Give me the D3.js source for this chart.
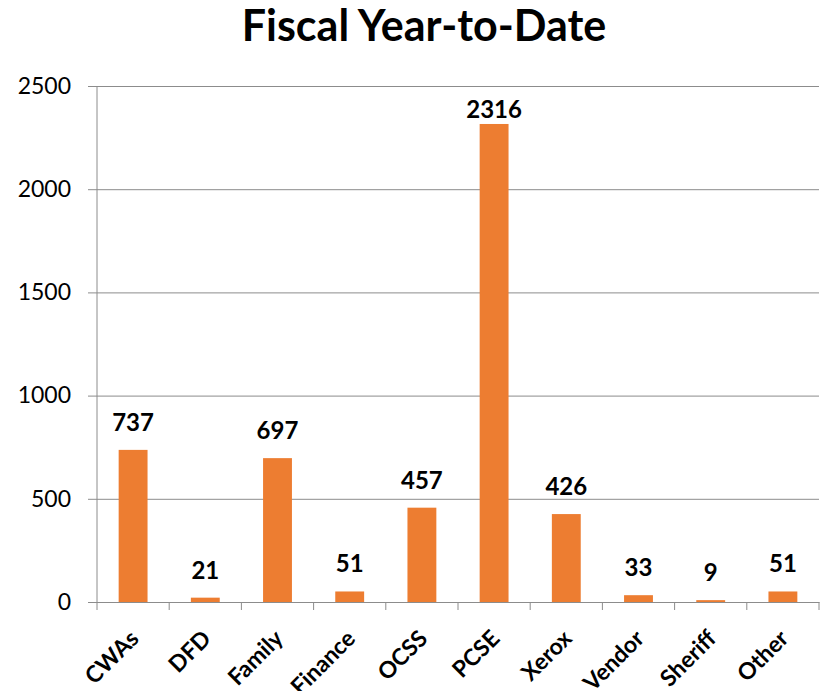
<!DOCTYPE html>
<html>
<head>
<meta charset="utf-8">
<script src="https://cdn.jsdelivr.net/npm/d3@7"></script>
<style>
  body { margin: 0; background: #fff; }
  text { font-family: Lato, "Open Sans", sans-serif; }
</style>
</head>
<body>
<svg id="chart" width="821" height="691"></svg>
<script>
// Data
const categories = ['CWAs', 'DFD', 'Family', 'Finance', 'OCSS', 'PCSE', 'Xerox', 'Vendor', 'Sheriff', 'Other'];
const counts = [737, 21, 697, 51, 457, 2316, 426, 33, 9, 51];
const yTicks = [0, 500, 1000, 1500, 2000, 2500];

const svg = d3.select('#chart');
const margin = { top: 86, right: 2, bottom: 89, left: 97 };
const width = +svg.attr('width');
const height = +svg.attr('height');
const gridColor = '#8c8c8c';

const x = d3.scaleBand()
    .domain(categories)
    .range([margin.left, width - margin.right]);

const y = d3.scaleLinear()
    .domain([0, 2500])
    .range([height - margin.bottom, margin.top]);

// Title
svg.append('text')
    .attr('x', 424)
    .attr('y', 41)
    .attr('text-anchor', 'middle')
    .style('font-size', '43px')
    .style('font-weight', 'bold')
    .text('Fiscal Year-to-Date');

// Y axis with gridlines
const yAxis = svg.append('g')
    .attr('transform', `translate(${margin.left - 9},0)`)
    .call(d3.axisLeft(y)
        .tickValues(yTicks)
        .tickFormat(d3.format('d'))
        .tickSize(-(width - margin.right - margin.left + 9))
        .tickPadding(17));
yAxis.select('.domain').remove();
yAxis.selectAll('line').attr('stroke', gridColor);
yAxis.selectAll('text')
    .style('font-size', '23px')
    .attr('fill', '#000');

// Y axis line
svg.append('line')
    .attr('x1', margin.left).attr('x2', margin.left)
    .attr('y1', y(2500)).attr('y2', y(0))
    .attr('stroke', gridColor);

// X axis
const xAxis = svg.append('g')
    .attr('transform', `translate(0,${y(0)})`)
    .call(d3.axisBottom(x).tickSize(0));
xAxis.select('.domain').attr('stroke', gridColor);
xAxis.selectAll('text')
    .attr('x', 0)
    .attr('y', 0)
    .attr('dy', 0)
    .attr('transform', 'translate(7,38) rotate(-45)')
    .attr('text-anchor', 'end')
    .attr('fill', '#000')
    .style('font-size', '23px')
    .style('font-weight', 'bold');

// Category boundary ticks
const boundaries = categories.map(c => x(c)).concat([x.range()[1]]);
svg.append('g')
    .selectAll('line')
    .data(boundaries)
    .join('line')
    .attr('x1', d => d).attr('x2', d => d)
    .attr('y1', y(0)).attr('y2', y(0) + 8)
    .attr('stroke', gridColor);

// Bars
const barW = x.bandwidth() * 0.4;
svg.append('g')
    .selectAll('rect')
    .data(counts)
    .join('rect')
    .attr('x', (d, i) => x(categories[i]) + (x.bandwidth() - barW) / 2)
    .attr('y', d => y(d))
    .attr('width', barW)
    .attr('height', d => y(0) - y(d))
    .attr('fill', '#ED7D31');

// Value labels
svg.append('g')
    .selectAll('text')
    .data(counts)
    .join('text')
    .attr('x', (d, i) => x(categories[i]) + x.bandwidth() / 2)
    .attr('y', d => Math.max(y(d) - 19, y(2500) + 32))
    .attr('text-anchor', 'middle')
    .style('font-size', '24px')
    .style('font-weight', 'bold')
    .text(d => d);
</script>
</body>
</html>
